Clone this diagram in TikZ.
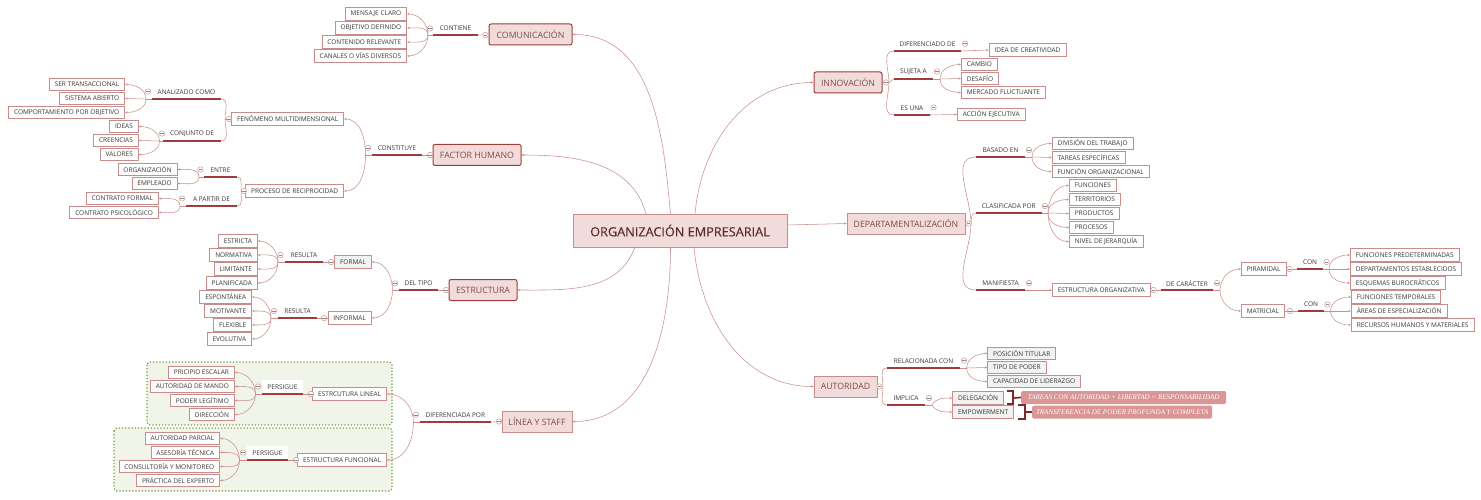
\documentclass[tikz,border=0pt]{standalone}
\usepackage{fontspec}
\usepackage{tikz}
\usetikzlibrary{arrows.meta}
\setmainfont{Open Sans}
\newfontfamily\calloutfont{Liberation Serif}
\newfontfamily\rootfont[FakeBold=0.25]{Open Sans}
\definecolor{linkc}{HTML}{C98F8F}
\definecolor{boxc}{HTML}{C88C8C}
\definecolor{darkc}{HTML}{A03C3C}
\definecolor{bracec}{HTML}{7A2A2A}
\definecolor{rosec}{HTML}{F2DCDB}
\definecolor{txtc}{HTML}{383838}
\definecolor{maintxt}{HTML}{7F4A4A}
\definecolor{roottxt}{HTML}{5A2C2C}
\definecolor{calloutc}{HTML}{DA9694}
\definecolor{areac}{HTML}{F1F4E8}
\definecolor{aread}{HTML}{769A3C}
\tikzset{
  leaf/.style={draw=boxc,line width=.6pt,fill=white,text=txtc,font=\fontsize{6.5}{7}\selectfont,
               inner xsep=5.5pt,inner ysep=0pt,minimum height=12.5pt},
  leafl/.style={leaf,anchor=east},
  leafr/.style={leaf,anchor=west},
  graybox/.style={fill=black!5},
  rel/.style={anchor=south,text=txtc,font=\fontsize{6.5}{7}\selectfont,inner sep=0pt,
              minimum width=#1,minimum height=13.5pt,
              append after command={(\tikzlastnode.south west) edge[under] (\tikzlastnode.south east)}},
  under/.style={-,draw=darkc,line width=1.4pt},
  togg/.style={circle,draw=boxc,line width=.45pt,fill=white,inner sep=0pt,minimum size=5.5pt,
               path picture={\draw[-,black!45,line width=.4pt,shorten >=1pt,shorten <=1pt] (path picture bounding box.west) -- (path picture bounding box.east);}},
  topic/.style={draw=darkc,line width=1pt,rounded corners=2pt,fill=rosec,text=maintxt,
                font=\fontsize{8.75}{10}\selectfont,inner sep=0pt,minimum height=21pt},
  topicb/.style={topic,draw=boxc,line width=.7pt,sharp corners},
  callout/.style={anchor=west,fill=calloutc,rounded corners=1.5pt,text=white,inner sep=0pt,minimum height=13pt,
                  font=\calloutfont\itshape\fontsize{7.05}{8}\selectfont},
  grouparea/.style={draw=aread,fill=areac,line width=1.2pt,dotted,rounded corners=3pt},
  lu/.style={out=90,in=0},
  ld/.style={out=-90,in=0},
  ru/.style={out=90,in=180},
  rd/.style={out=-90,in=180},
}
\begin{document}
\begin{tikzpicture}[->,>={Stealth[length=2.6pt,width=2.2pt]},x=1pt,y=1pt,
                    every edge/.style={draw=linkc,line width=.55pt}]
  \useasboundingbox (0,0) rectangle (1481,-500);

  % green areas behind the two structures
  \path[grouparea] (147,-362) rectangle (392,-425);
  \path[grouparea] (114,-428) rectangle (392,-491);

  % centre and main topics
  \node[topicb,minimum width=214pt,minimum height=33pt,text=roottxt,font=\rootfont\fontsize{12.7}{14}\selectfont] (root) at (680,-230.5) {ORGANIZACIÓN EMPRESARIAL};
  \node[topic,minimum width=83pt]  (comunicacion) at (530.5,-34.5) {COMUNICACIÓN};
  \node[topic,minimum width=88pt]  (factor) at (477,-155) {FACTOR HUMANO};
  \node[topic,minimum width=68pt]  (estructura) at (483,-290) {ESTRUCTURA};
  \node[topicb,minimum width=70pt] (linea) at (537,-421.5) {LÍNEA Y STAFF};
  \node[topic,minimum width=68pt]  (innovacion) at (848,-82.5) {INNOVACIÓN};
  \node[topicb,minimum width=118pt] (depto) at (906,-223.5) {DEPARTAMENTALIZACIÓN};
  \node[topicb,minimum width=63pt] (autoridad) at (845.5,-386.5) {AUTORIDAD};

  \coordinate (rCO) at (670.5,-214);
  \coordinate (rFA) at (646,-214);
  \coordinate (rIN) at (695,-214);
  \coordinate (rES) at (635,-247);
  \coordinate (rLI) at (670.5,-247);
  \coordinate (rAU) at (694,-247);
  \coordinate (rDE) at (787,-225);

  % comunicacion
  \node[rel=45pt] (contiene) at (455.5,-35) {CONTIENE};
  \node[leafl] (mensaje) at (407,-14) {MENSAJE CLARO};
  \node[leafl] (objetivo) at (407,-28) {OBJETIVO DEFINIDO};
  \node[leafl] (contenido) at (407,-42) {CONTENIDO RELEVANTE};
  \node[leafl] (canales) at (407,-56) {CANALES O VÍAS DIVERSOS};
  \coordinate (jCO) at (428,-35);

  % factor humano
  \node[rel=50pt] (constituye) at (397,-155) {CONSTITUYE};
  \node[leafl] (fenomeno) at (344,-119) {FENÓMENO MULTIDIMENSIONAL};
  \node[leafl] (proceso) at (344,-191) {PROCESO DE RECIPROCIDAD};
  \coordinate (jFA) at (365.5,-155);
  \node[rel=69pt] (analizado) at (186.5,-99) {ANALIZADO COMO};
  \node[rel=58pt] (conjunto) at (192,-141) {CONJUNTO DE};
  \coordinate (jFE) at (225,-119);
  \node[leafl] (ser) at (125,-84.5) {SER TRANSACCIONAL};
  \node[leafl] (sistema) at (125,-98.5) {SISTEMA ABIERTO};
  \node[leafl] (comport) at (125,-112.5) {COMPORTAMIENTO POR OBJETIVO};
  \coordinate (jAN) at (146,-99);
  \node[leafl] (ideas) at (138.7,-126.5) {IDEAS};
  \node[leafl] (creencias) at (138.7,-140.5) {CREENCIAS};
  \node[leafl] (valores) at (138.7,-154.5) {VALORES};
  \coordinate (jCJ) at (159.5,-141);
  \node[rel=33pt] (entre) at (220.5,-177) {ENTRE};
  \node[rel=51pt] (apartir) at (211.5,-206) {A PARTIR DE};
  \coordinate (jPR) at (241,-191);
  \node[leafl] (organiz) at (177.5,-169.5) {ORGANIZACIÓN};
  \node[leafl] (empleado) at (177.5,-183.5) {EMPLEADO};
  \coordinate (jEN) at (199,-177);
  \node[leafl] (cformal) at (158.7,-198.5) {CONTRATO FORMAL};
  \node[leafl] (cpsico) at (158.7,-212.5) {CONTRATO PSICOLÓGICO};
  \coordinate (jAP) at (180,-206);

  % estructura
  \node[rel=39pt] (deltipo) at (418.5,-290) {DEL TIPO};
  \node[leafl,graybox] (formal) at (371.7,-262) {FORMAL};
  \node[leafl] (informal) at (371.7,-318) {INFORMAL};
  \coordinate (jES) at (392.5,-290);
  \node[rel=38pt] (resulta) at (304,-262) {RESULTA};
  \node[rel=38.5pt] (resultb) at (297.5,-318) {RESULTA};
  \coordinate (jRA) at (278,-262);
  \coordinate (jRB) at (271,-318);
  \node[leafl] (estricta) at (257.7,-241) {ESTRICTA};
  \node[leafl] (normativa) at (257.7,-255) {NORMATIVA};
  \node[leafl] (limitante) at (257.7,-269) {LIMITANTE};
  \node[leafl] (planif) at (257.7,-283) {PLANIFICADA};
  \node[leafl] (espont) at (252,-297) {ESPONTÁNEA};
  \node[leafl] (motivante) at (252,-311) {MOTIVANTE};
  \node[leafl] (flexible) at (252,-325) {FLEXIBLE};
  \node[leafl] (evolutiva) at (252,-339) {EVOLUTIVA};

  % linea y staff
  \node[rel=70.5pt] (diferencp) at (455.3,-422) {DIFERENCIADA POR};
  \node[leafl] (lineal) at (387,-394) {ESTRCUTURA LINEAL};
  \node[leafl] (funcional) at (387,-460) {ESTRUCTURA FUNCIONAL};
  \coordinate (jLI) at (413.5,-422);
  \node[rel=41pt,fill=white] (persa) at (282.5,-394) {PERSIGUE};
  \node[rel=41pt,fill=white] (persb) at (267.5,-460) {PERSIGUE};
  \coordinate (jPA) at (255.5,-394);
  \coordinate (jPB) at (239.5,-460);
  \node[leafl] (pricipio) at (234.7,-372.5) {PRICIPIO ESCALAR};
  \node[leafl] (mando) at (234.7,-386.5) {AUTORIDAD DE MANDO};
  \node[leafl] (poder) at (234.7,-400.5) {PODER LEGÍTIMO};
  \node[leafl] (direccion) at (234.7,-414.5) {DIRECCIÓN};
  \node[leafl] (parcial) at (220,-438.5) {AUTORIDAD PARCIAL};
  \node[leafl] (asesoria) at (220,-452.5) {ASESORÍA TÉCNICA};
  \node[leafl] (consult) at (220,-466.5) {CONSULTORÍA Y MONITOREO};
  \node[leafl] (practica) at (220,-480.5) {PRÁCTICA DEL EXPERTO};

  % innovacion
  \coordinate (jIN) at (889,-82.5);
  \node[rel=67pt] (diferenc) at (927.5,-51) {DIFERENCIADO DE};
  \node[rel=39pt] (sujeta) at (913.5,-79) {SUJETA A};
  \node[rel=36pt] (esuna) at (912,-115) {ES UNA};
  \coordinate (jSU) at (940,-79);
  \node[leafr] (idea) at (988.7,-50) {IDEA DE CREATIVIDAD};
  \node[leafr] (cambio) at (961,-64.5) {CAMBIO};
  \node[leafr] (desafio) at (961,-78.5) {DESAFÍO};
  \node[leafr] (mercado) at (961,-92.5) {MERCADO FLUCTUANTE};
  \node[leafr] (accion) at (957,-114.5) {ACCIÓN EJECUTIVA};

  % departamentalizacion
  \coordinate (jDE) at (971,-223.5);
  \node[rel=49pt] (basado) at (1000.5,-157) {BASADO EN};
  \node[rel=65.5pt] (clasif) at (1008.7,-213) {CLASIFICADA POR};
  \node[rel=49pt] (manifiesta) at (1000.5,-290) {MANIFIESTA};
  \coordinate (jBA) at (1032,-157);
  \coordinate (jCL) at (1048,-213);
  \node[leafr] (division) at (1051.7,-143.5) {DIVISIÓN DEL TRABAJO};
  \node[leafr] (tareas) at (1051.7,-157.5) {TAREAS ESPECÍFICAS};
  \node[leafr] (funcion) at (1051.7,-171.5) {FUNCIÓN ORGANIZACIONAL};
  \node[leafr] (funciones) at (1069,-185.5) {FUNCIONES};
  \node[leafr] (territ) at (1069,-199.5) {TERRITORIOS};
  \node[leafr] (productos) at (1069,-213.5) {PRODUCTOS};
  \node[leafr] (procesos) at (1069,-227.5) {PROCESOS};
  \node[leafr] (nivel) at (1069,-241.5) {NIVEL DE JERARQUÍA};
  \node[leafr] (organizativa) at (1052,-290) {ESTRUCTURA ORGANIZATIVA};
  \node[rel=52pt] (caracter) at (1187,-290) {DE CARÁCTER};
  \coordinate (jCA) at (1220,-290);
  \node[leafr] (piramidal) at (1241,-269) {PIRAMIDAL};
  \node[leafr] (matricial) at (1241,-311) {MATRICIAL};
  \node[rel=26pt] (cona) at (1310,-269) {CON};
  \node[rel=26pt] (conb) at (1311,-311) {CON};
  \coordinate (jCN) at (1329,-269);
  \coordinate (jCM) at (1330.5,-311);
  \node[leafr] (predet) at (1350,-255) {FUNCIONES PREDETERMINADAS};
  \node[leafr] (establ) at (1350,-269) {DEPARTAMENTOS ESTABLECIDOS};
  \node[leafr] (burocr) at (1350,-283) {ESQUEMAS BUROCRÁTICOS};
  \node[leafr] (tempor) at (1351,-297) {FUNCIONES TEMPORALES};
  \node[leafr] (areas) at (1351,-311) {ÁREAS DE ESPECIALIZACIÓN};
  \node[leafr] (recursos) at (1351,-325) {RECURSOS HUMANOS Y MATERIALES};

  % autoridad
  \coordinate (jAU) at (883,-386.5);
  \node[rel=73pt] (relacion) at (923.5,-368) {RELACIONADA CON};
  \node[rel=38pt] (implica) at (906,-405) {IMPLICA};
  \coordinate (jRE) at (966.7,-368);
  \coordinate (jIM) at (932,-405);
  \node[leafr,graybox] (posicion) at (987.3,-353.5) {POSICIÓN TITULAR};
  \node[leafr,graybox] (tipo) at (987.3,-367.5) {TIPO DE PODER};
  \node[leafr,graybox] (capacidad) at (987.3,-381.5) {CAPACIDAD DE LIDERAZGO};
  \node[leafr,graybox] (delegacion) at (952.3,-398) {DELEGACIÓN};
  \node[leafr,graybox] (empower) at (952.3,-412) {EMPOWERMENT};
  \node[callout,minimum width=205pt] (tareasaut) at (1021,-397.5) {TAREAS CON AUTORIDAD + LIBERTAD = RESPONSABILIDAD};
  \node[callout,minimum width=180pt] (transfer) at (1032,-412) {TRANSFERENCIA DE PODER PROFUNDA Y COMPLETA};
  \coordinate (bA) at (1013,-398);
  \coordinate (bB) at (1025,-412);

  \draw[-,bracec,line width=1.7pt] (1007,-391) -- (bA |- 0,-391) -- (bA |- 0,-404) -- (1007,-404);
  \draw[-,bracec,line width=1.7pt] (1018,-405) -- (bB |- 0,-405) -- (bB |- 0,-419) -- (1018,-419);
  \path (bA) edge[-,draw=bracec,line width=1.7pt] (tareasaut.west)
        (bB) edge[-,draw=bracec,line width=1.7pt] (transfer.west);

  % connectors
  \path (rCO) edge[out=95,in=0] (comunicacion.east)
        (rFA) edge[out=105,in=0] (factor.east)
        (rIN) edge[out=85,in=180] (innovacion.west)
        (rES) edge[out=-110,in=0] (estructura.east)
        (rLI) edge[out=-90,in=0] (linea.east)
        (rAU) edge[out=-85,in=180] (autoridad.west)
        (rDE) edge (depto.west);

  \path (comunicacion.west) edge[-] (contiene.south east)
        (contiene.south west) edge[-] (jCO)
        (jCO) edge[lu] (mensaje.east)
              edge[lu] (objetivo.east)
              edge[ld] (contenido.east)
              edge[ld] (canales.east);

  \path (factor.west) edge[-] (constituye.south east)
        (constituye.south west) edge[-] (jFA)
        (jFA) edge[lu] (fenomeno.east)
              edge[ld] (proceso.east)
        (fenomeno.west) edge[-] (jFE)
        (jFE) edge[lu,-] (analizado.south east)
              edge[ld,-] (conjunto.south east)
        (analizado.south west) edge[-] (jAN)
        (jAN) edge[lu] (ser.east)
              edge (sistema.east)
              edge[ld] (comport.east)
        (conjunto.south west) edge[-] (jCJ)
        (jCJ) edge[lu] (ideas.east)
              edge (creencias.east)
              edge[ld] (valores.east)
        (proceso.west) edge[-] (jPR)
        (jPR) edge[lu,-] (entre.south east)
              edge[ld,-] (apartir.south east)
        (entre.south west) edge[-] (jEN)
        (jEN) edge[lu] (organiz.east)
              edge[ld] (empleado.east)
        (apartir.south west) edge[-] (jAP)
        (jAP) edge[lu] (cformal.east)
              edge[ld] (cpsico.east);

  \path (estructura.west) edge[-] (deltipo.south east)
        (deltipo.south west) edge[-] (jES)
        (jES) edge[lu] (formal.east)
              edge[ld] (informal.east)
        (formal.west) edge[-] (resulta.south east)
        (resulta.south west) edge[-] (jRA)
        (jRA) edge[lu] (estricta.east)
              edge[lu] (normativa.east)
              edge[ld] (limitante.east)
              edge[ld] (planif.east)
        (informal.west) edge[-] (resultb.south east)
        (resultb.south west) edge[-] (jRB)
        (jRB) edge[lu] (espont.east)
              edge[lu] (motivante.east)
              edge[ld] (flexible.east)
              edge[ld] (evolutiva.east);

  \path (linea.west) edge[-] (diferencp.south east)
        (diferencp.south west) edge[-] (jLI)
        (jLI) edge[lu] (lineal.east)
              edge[ld] (funcional.east)
        (lineal.west) edge[-] (persa.south east)
        (persa.south west) edge[-] (jPA)
        (jPA) edge[lu] (pricipio.east)
              edge[lu] (mando.east)
              edge[ld] (poder.east)
              edge[ld] (direccion.east)
        (funcional.west) edge[-] (persb.south east)
        (persb.south west) edge[-] (jPB)
        (jPB) edge[lu] (parcial.east)
              edge[lu] (asesoria.east)
              edge[ld] (consult.east)
              edge[ld] (practica.east);

  \path (innovacion.east) edge[-] (jIN)
        (jIN) edge[out=90,in=180,-] (diferenc.south west)
              edge[-] (sujeta.south west)
              edge[out=-90,in=180,-] (esuna.south west)
        (diferenc.south east) edge (idea.west)
        (sujeta.south east) edge[-] (jSU)
        (jSU) edge[ru] (cambio.west)
              edge (desafio.west)
              edge[rd] (mercado.west)
        (esuna.south east) edge (accion.west);

  \path (depto.east) edge[-] (jDE)
        (jDE) edge[out=90,in=180,-] (basado.south west)
              edge[out=90,in=180,-] (clasif.south west)
              edge[out=-90,in=180,-] (manifiesta.south west)
        (basado.south east) edge[-] (jBA)
        (jBA) edge[ru] (division.west)
              edge (tareas.west)
              edge[rd] (funcion.west)
        (clasif.south east) edge[-] (jCL)
        (jCL) edge[ru] (funciones.west)
              edge[ru] (territ.west)
              edge (productos.west)
              edge[rd] (procesos.west)
              edge[rd] (nivel.west)
        (manifiesta.south east) edge (organizativa.west)
        (organizativa.east) edge[-] (caracter.south west)
        (caracter.south east) edge[-] (jCA)
        (jCA) edge[ru] (piramidal.west)
              edge[rd] (matricial.west)
        (piramidal.east) edge[-] (cona.south west)
        (cona.south east) edge[-] (jCN)
        (jCN) edge[ru] (predet.west)
              edge (establ.west)
              edge[rd] (burocr.west)
        (matricial.east) edge[-] (conb.south west)
        (conb.south east) edge[-] (jCM)
        (jCM) edge[ru] (tempor.west)
              edge (areas.west)
              edge[rd] (recursos.west);

  \path (autoridad.east) edge[-] (jAU)
        (jAU) edge[out=90,in=180,-] (relacion.south west)
              edge[out=-90,in=180,-] (implica.south west)
        (relacion.south east) edge[-] (jRE)
        (jRE) edge[ru] (posicion.west)
              edge (tipo.west)
              edge[rd] (capacidad.west)
        (implica.south east) edge[-] (jIM)
        (jIM) edge[out=60,in=180] (delegacion.west)
              edge[out=-60,in=180] (empower.west);

  % collapse marks
  \foreach \tx/\ty [count=\ti] in {430/28.5,485.5/35,368/148,430/155,148/91.5,162/133.5,229/119,244/191,200.5/169.5,182/198.5,
      395/283.5,446/290,331/262,324/318,280.5/255,274/311,416/414.7,499/421.5,311/394,296/460,258/386.5,243/452.5,
      886/82.5,965/43.7,937/71.5,933.5/107.5,968.5/223.5,1029/150,1045/206,1029/283,1153.5/290,1217/283,1289.5/269,1290/311,
      1326.5/262,1327.5/304.5,879.5/386.5,964/360.5,929/398}
    \node[togg] (tg\ti) at (\tx,-\ty) {};
\end{tikzpicture}
\end{document}
